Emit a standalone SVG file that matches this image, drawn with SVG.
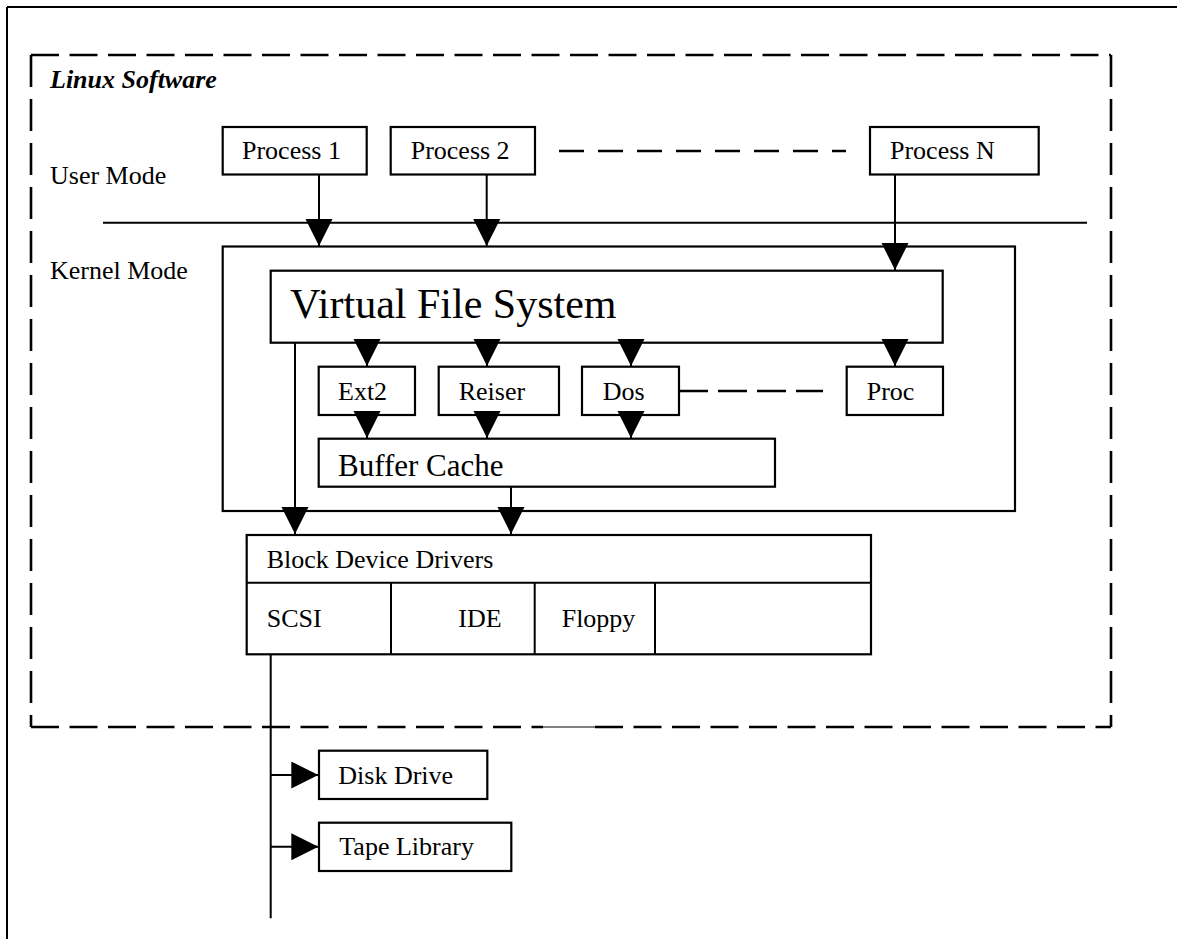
<svg xmlns="http://www.w3.org/2000/svg" width="1177" height="939" viewBox="0 0 1177 939">
  <style>
    .box { fill: #fff; stroke: #000; stroke-width: 2.2; }
    .ln { fill: none; stroke: #000; stroke-width: 2; }
    .arr { fill: none; stroke: #000; stroke-width: 2; marker-end: url(#tri); }
    .dash { fill: none; stroke: #000; stroke-width: 2.6; }
    .t { font-family: "Liberation Serif", "Times New Roman", serif; font-size: 26px; fill: #000; }
    .big { font-size: 42px; }
    .mid { font-size: 31px; }
    .title { font-weight: bold; font-style: italic; }
  </style>
  <defs>
    <marker id="tri" markerUnits="userSpaceOnUse" markerWidth="28" markerHeight="28" refX="27" refY="13.5" orient="auto">
      <path d="M0,0 L27,13.5 L0,27 Z" fill="#000"/>
    </marker>
  </defs>
  <rect width="1177" height="939" fill="#fff"/>

  <!-- page frame (top and left edges) -->
  <g id="frame">
    <line x1="7" y1="7" x2="1177" y2="7" class="ln"/>
    <line x1="7" y1="7" x2="7" y2="939" class="ln"/>
  </g>

  <!-- software boundary -->
  <g id="linux-software">
    <line x1="31" y1="55" x2="1111" y2="55" class="dash" stroke-dasharray="28 10.5"/>
    <line x1="31" y1="727" x2="543" y2="727" class="dash" stroke-dasharray="28 10.5"/>
    <line x1="543" y1="727" x2="595" y2="727" stroke="#555" stroke-width="1.4"/>
    <line x1="595" y1="727" x2="1111" y2="727" class="dash" stroke-dasharray="28 10.5"/>
    <line x1="31" y1="55" x2="31" y2="727" class="dash" stroke-dasharray="32 12"/>
    <line x1="1111" y1="55" x2="1111" y2="727" class="dash" stroke-dasharray="32 12"/>
    <text x="50" y="88" class="t title">Linux Software</text>
    <text x="50" y="184" class="t">User Mode</text>
    <text x="50" y="279" class="t">Kernel Mode</text>
  </g>

  <!-- user/kernel boundary -->
  <g id="mode-boundary">
    <line x1="103" y1="222.7" x2="1087" y2="222.7" class="ln"/>
  </g>

  <g id="process-1">
    <rect x="222.7" y="127" width="144" height="47.5" class="box"/>
    <text x="242" y="159.3" class="t">Process 1</text>
  </g>
  <g id="process-2">
    <rect x="390.7" y="127" width="144.3" height="47.5" class="box"/>
    <text x="410.7" y="159.3" class="t">Process 2</text>
  </g>
  <g id="process-n">
    <rect x="870" y="127" width="168.7" height="47.5" class="box"/>
    <text x="890" y="159.3" class="t">Process N</text>
  </g>

  <g id="kernel">
    <rect x="222.7" y="246.5" width="792.3" height="264.5" class="box"/>
  </g>

  <g id="vfs">
    <rect x="270.7" y="270.7" width="672" height="72" class="box"/>
    <text x="290" y="318" class="t big">Virtual File System</text>
  </g>

  <g id="ext2">
    <rect x="318.7" y="366.7" width="96.3" height="48.3" class="box"/>
    <text x="338" y="400" class="t">Ext2</text>
  </g>
  <g id="reiser">
    <rect x="438.7" y="366.7" width="120.3" height="48.3" class="box"/>
    <text x="458.7" y="400" class="t">Reiser</text>
  </g>
  <g id="dos">
    <rect x="582" y="366.7" width="97" height="48.3" class="box"/>
    <text x="602.7" y="400" class="t">Dos</text>
  </g>
  <g id="proc">
    <rect x="846.7" y="366.7" width="96.3" height="48.3" class="box"/>
    <text x="866.7" y="400" class="t">Proc</text>
  </g>

  <g id="buffer-cache">
    <rect x="318.7" y="438.7" width="456.3" height="48" class="box"/>
    <text x="338" y="475.7" class="t mid">Buffer Cache</text>
  </g>

  <g id="block-device-drivers">
    <rect x="246.7" y="535" width="624.3" height="119.3" class="box"/>
    <line x1="246.7" y1="582.7" x2="871" y2="582.7" class="ln" stroke-width="2.2"/>
    <line x1="391" y1="582.7" x2="391" y2="654.3" class="ln" stroke-width="2.2"/>
    <line x1="534.7" y1="582.7" x2="534.7" y2="654.3" class="ln" stroke-width="2.2"/>
    <line x1="655" y1="582.7" x2="655" y2="654.3" class="ln" stroke-width="2.2"/>
    <text x="266.7" y="568" class="t">Block Device Drivers</text>
    <text x="266.7" y="626.7" class="t">SCSI</text>
    <text x="458.3" y="626.7" class="t">IDE</text>
    <text x="561.7" y="626.7" class="t">Floppy</text>
  </g>

  <g id="disk-drive">
    <rect x="319" y="750.7" width="168.3" height="48.3" class="box"/>
    <text x="338.3" y="784" class="t">Disk Drive</text>
  </g>
  <g id="tape-library">
    <rect x="319" y="822.7" width="192.3" height="48.3" class="box"/>
    <text x="339.3" y="855" class="t">Tape Library</text>
  </g>

  <g id="connectors">
    <!-- processes into the kernel -->
    <line x1="319" y1="174.5" x2="319" y2="246" class="arr"/>
    <line x1="486.7" y1="174.5" x2="486.7" y2="246" class="arr"/>
    <line x1="895" y1="174.5" x2="895" y2="270" class="arr"/>
    <line x1="559" y1="151" x2="846" y2="151" class="dash" stroke-width="2.4" stroke-dasharray="25 14"/>

    <!-- VFS to file systems -->
    <line x1="367" y1="342.7" x2="367" y2="366" class="arr"/>
    <line x1="487" y1="342.7" x2="487" y2="366" class="arr"/>
    <line x1="631" y1="342.7" x2="631" y2="366" class="arr"/>
    <line x1="895" y1="342.7" x2="895" y2="366" class="arr"/>
    <line x1="679" y1="391" x2="823" y2="391" class="dash" stroke-width="2.6" stroke-dasharray="29 10"/>

    <!-- file systems to buffer cache -->
    <line x1="367" y1="415" x2="367" y2="438" class="arr"/>
    <line x1="487" y1="415" x2="487" y2="438" class="arr"/>
    <line x1="631" y1="415" x2="631" y2="438" class="arr"/>

    <!-- down to block device drivers -->
    <line x1="295" y1="342.7" x2="295" y2="534" class="arr"/>
    <line x1="511" y1="486.7" x2="511" y2="534" class="arr"/>

    <!-- SCSI bus -->
    <line x1="270.7" y1="654.3" x2="270.7" y2="918.3" class="ln"/>
    <line x1="270.7" y1="775" x2="318.3" y2="775" class="arr"/>
    <line x1="270.7" y1="846.7" x2="318.3" y2="846.7" class="arr"/>
  </g>
</svg>
